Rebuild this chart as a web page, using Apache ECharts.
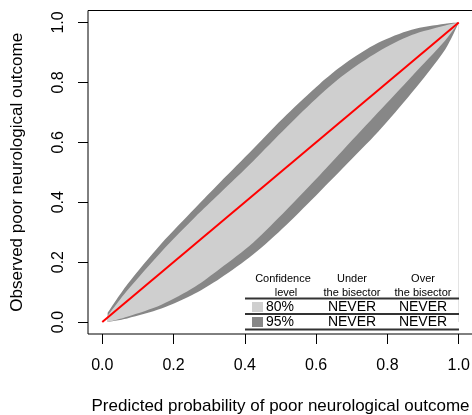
<!DOCTYPE html>
<html>
<head>
<meta charset="utf-8">
<script src="https://cdn.jsdelivr.net/npm/echarts@6/dist/echarts.min.js"></script>
<style>
  html, body { margin: 0; padding: 0; background: #fff; }
  #main { width: 472px; height: 415px; }
</style>
</head>
<body>
<div id="main"></div>
<script>
// belt
const beltX   = [0.015, 0.07, 0.166, 0.26, 0.33, 0.423, 0.517, 0.61, 0.68, 0.774, 0.868, 0.962, 1.0]
const upper95 = [0.03, 0.125, 0.262, 0.38, 0.466, 0.578, 0.692, 0.795, 0.862, 0.932, 0.976, 0.996, 1.0]
const upper80 = [0.02, 0.105, 0.235, 0.35, 0.43, 0.537, 0.65, 0.757, 0.827, 0.902, 0.958, 0.99, 1.0]
const lower80 = [0.0, 0.018, 0.058, 0.118, 0.178, 0.265, 0.375, 0.49, 0.58, 0.70, 0.82, 0.94, 1.0]
const lower95 = [0.0, 0.012, 0.045, 0.095, 0.145, 0.225, 0.325, 0.435, 0.52, 0.635, 0.765, 0.91, 1.0]
// bisector
const diagX = [0, 1]
const diagY = [0, 1]
const ticks = [0, 0.2, 0.4, 0.6, 0.8, 1.0]

const dark = '#878787'
const light = '#cfcfcf'
const font = 'Liberation Sans, Arial, sans-serif'

const pairs = (ys) => beltX.map((x, i) => [x, ys[i]])

// bands are painted from the outside in: under upper95 dark, under upper80 light,
// under lower80 dark again, under lower95 white
const edge = (ys, color) => ({
  type: 'line', data: pairs(ys), smooth: 0.3, symbol: 'none', silent: true,
  lineStyle: { width: 0 },
  areaStyle: { color: color, opacity: 1, origin: 0 }
})

const axisBase = {
  type: 'value', min: -0.04, max: 1.04,
  axisLine: { show: false, onZero: false },
  splitLine: { show: false },
  axisTick: { customValues: ticks, length: 10, lineStyle: { color: '#000' } }
}

// legend table, drawn above the plot
const txt = (x, y, text, size, align) => ({
  type: 'text', x: x, y: y, z: 100,
  style: { text: text, font: size + 'px ' + font, fill: '#000', align: align || 'center', verticalAlign: 'middle' }
})
const rule = (y) => ({
  type: 'line', z: 100, shape: { x1: 245, y1: y, x2: 459, y2: y }, style: { stroke: '#333', lineWidth: 2 }
})

const chart = echarts.init(document.getElementById('main'))
chart.setOption({
  animation: false,
  grid: {
    left: 88, top: 10.5, right: -1, bottom: 81,
    containLabel: false, outerBoundsMode: 'none',
    show: true, borderColor: '#000', borderWidth: 1
  },
  xAxis: Object.assign({}, axisBase, {
    axisLabel: {
      customValues: ticks, margin: 24, fontSize: 16, color: '#000', fontFamily: font,
      formatter: v => v.toFixed(1)
    },
    name: 'Predicted probability of poor neurological outcome',
    nameLocation: 'middle', nameGap: 64,
    nameTextStyle: { fontSize: 17, color: '#000', fontFamily: font }
  }),
  yAxis: Object.assign({}, axisBase, {
    axisLabel: {
      customValues: ticks, margin: 21, fontSize: 16, color: '#000', fontFamily: font, rotate: 90,
      formatter: v => v.toFixed(1)
    },
    name: 'Observed poor neurological outcome',
    nameLocation: 'middle', nameGap: 62, nameRotate: 90,
    nameTextStyle: { fontSize: 17, color: '#000', fontFamily: font }
  }),
  series: [
    edge(upper95, dark),
    edge(upper80, light),
    edge(lower80, dark),
    edge(lower95, '#ffffff'),
    {
      type: 'line', data: diagX.map((x, i) => [x, diagY[i]]),
      symbol: 'none', lineStyle: { color: '#ff0000', width: 2 }
    }
  ],
  graphic: [
    txt(283, 279, 'Confidence', 11),
    txt(286, 293, 'level', 11),
    txt(352, 279, 'Under', 11),
    txt(352, 293, 'the bisector', 11),
    txt(423, 279, 'Over', 11),
    txt(423, 293, 'the bisector', 11),
    rule(298.5),
    { type: 'rect', z: 100, shape: { x: 252, y: 302, width: 11, height: 10 }, style: { fill: light } },
    txt(266, 307, '80%', 14, 'left'),
    txt(352, 307, 'NEVER', 14),
    txt(423, 307, 'NEVER', 14),
    rule(314),
    { type: 'rect', z: 100, shape: { x: 252, y: 317, width: 11, height: 10 }, style: { fill: dark } },
    txt(266, 322, '95%', 14, 'left'),
    txt(352, 322, 'NEVER', 14),
    txt(423, 322, 'NEVER', 14),
    rule(329.5)
  ]
})
</script>
</body>
</html>
